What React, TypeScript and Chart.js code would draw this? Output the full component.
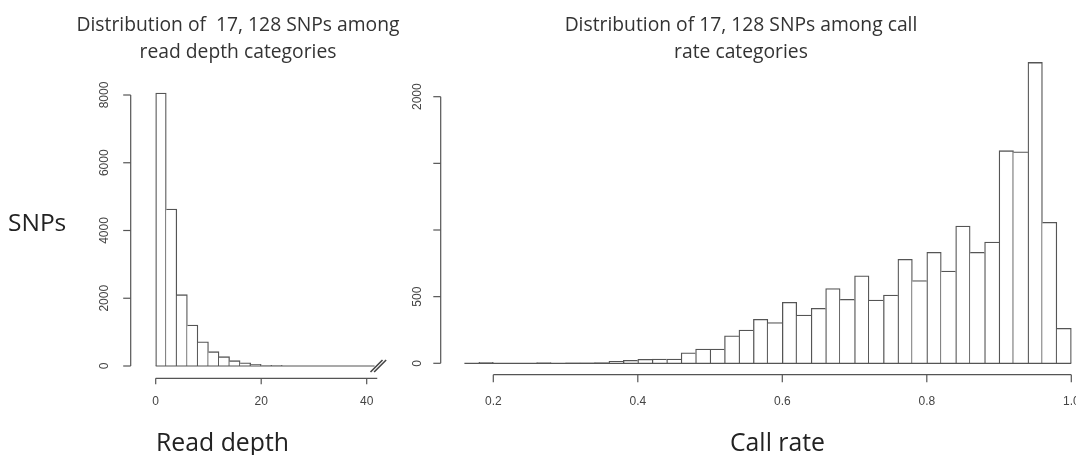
import React, { useEffect, useRef } from "react";
import { Chart, registerables } from "chart.js";

Chart.register(...registerables);

// ---------- Data: read depth histogram ----------
const depthBinMids = [1, 3, 5, 7, 9, 11, 13, 15, 17, 19, 21, 23, 25, 27, 29, 31, 33, 35, 37, 39, 41];
const depthCounts = [8060, 4635, 2105, 1210, 717, 422, 275, 157, 97, 50, 22, 18, 0, 0, 0, 0, 0, 0, 0, 0, 0];
const depthXTicks = [0, 20, 40];
const depthXTickLabels = ["0", "20", "40"];
const depthYTicks = [0, 2000, 4000, 6000, 8000];
const depthYTickLabels = ["0", "2000", "4000", "6000", "8000"];

// ---------- Data: call rate histogram ----------
const callRateBinMids = [
  0.17, 0.19, 0.21, 0.23, 0.25, 0.27, 0.29, 0.31, 0.33, 0.35, 0.37, 0.39, 0.41, 0.43,
  0.45, 0.47, 0.49, 0.51, 0.53, 0.55, 0.57, 0.59, 0.61, 0.63, 0.65, 0.67, 0.69, 0.71,
  0.73, 0.75, 0.77, 0.79, 0.81, 0.83, 0.85, 0.87, 0.89, 0.91, 0.93, 0.95, 0.97, 0.99,
];
const callRateCounts = [
  0, 8, 0, 0, 0, 6, 0, 4, 4, 5, 15, 22, 30, 32,
  32, 78, 107, 107, 207, 250, 330, 305, 457, 362, 412, 560, 480, 657,
  475, 512, 780, 620, 832, 692, 1030, 832, 910, 1595, 1587, 2257, 1057, 262,
];
const callRateXTicks = [0.2, 0.4, 0.6, 0.8, 1.0];
const callRateXTickLabels = ["0.2", "0.4", "0.6", "0.8", "1.0"];
const callRateYTicks = [0, 500, 1000, 1500, 2000];
const callRateYTickLabels = ["0", "500", "", "", "2000"];

// ---------- Texts ----------
const leftTitle = ["Distribution of  17, 128 SNPs among", "read depth categories"];
const rightTitle = ["Distribution of 17, 128 SNPs among call", "rate categories"];
const yAxisTitle = "SNPs";
const leftXAxisTitle = "Read depth";
const rightXAxisTitle = "Call rate";

const LINE = "#555555";
const LABEL = "#444";
const TICK_FONT = '12px "Liberation Sans", Arial, sans-serif';

// R-style detached axes drawn from the chart's own scales
const rAxesPlugin = {
  id: "rAxes",
  afterDatasetsDraw(chart: any, _args: any, o: any) {
    const { ctx, chartArea } = chart;
    const xs = chart.scales.x;
    const ys = chart.scales.y;
    const seg = (x1: number, y1: number, x2: number, y2: number) => {
      ctx.beginPath();
      ctx.moveTo(x1, y1);
      ctx.lineTo(x2, y2);
      ctx.stroke();
    };
    ctx.save();
    ctx.strokeStyle = LINE;
    ctx.lineWidth = 1.2;
    const y0 = ys.getPixelForValue(0);
    // baseline (zero-height bins)
    seg(xs.getPixelForValue(o.baseFrom), y0, xs.getPixelForValue(o.baseTo), y0);

    // x axis
    const axY = y0 + o.xAxisOffset;
    seg(xs.getPixelForValue(o.xLineFrom), axY, xs.getPixelForValue(o.xLineTo), axY);
    ctx.fillStyle = LABEL;
    ctx.font = TICK_FONT;
    ctx.textAlign = "center";
    ctx.textBaseline = "middle";
    xs.ticks.forEach((t: any) => {
      const px = xs.getPixelForValue(t.value);
      seg(px, axY, px, axY + o.xTickLen);
      if (t.label) ctx.fillText(String(t.label), px, axY + o.xLabelOffset);
    });

    // y axis
    const axX = chartArea.left + o.yAxisOffset;
    const yTop = ys.getPixelForValue(ys.ticks[ys.ticks.length - 1].value);
    seg(axX, y0, axX, yTop);
    ys.ticks.forEach((t: any) => {
      const py = ys.getPixelForValue(t.value);
      seg(axX, py, axX - o.yTickLen, py);
      if (t.label) {
        ctx.save();
        ctx.translate(axX + o.yLabelOffset, py);
        ctx.rotate(-Math.PI / 2);
        ctx.fillText(String(t.label), 0, 0);
        ctx.restore();
      }
    });

    // axis break mark
    if (o.breakAt !== undefined) {
      const cx = xs.getPixelForValue(o.breakAt);
      ctx.strokeStyle = "#444";
      ctx.lineWidth = 1.6;
      [-1.8, 1.8].forEach((d) => {
        seg(cx - 6 + d, y0 + 6, cx + 6 + d, y0 - 6);
      });
    }
    ctx.restore();
  },
};

function edgeWidths(counts: number[]) {
  return (c: any) => {
    const i = c.dataIndex;
    const v = counts[i];
    if (!v) return 0;
    const prev = i > 0 ? counts[i - 1] : 0;
    const next = i < counts.length - 1 ? counts[i + 1] : 0;
    return { top: 1.3, bottom: 0, left: prev <= v ? 1.3 : 0, right: next < v ? 1.3 : 0 };
  };
}

function makeConfig(
  mids: number[],
  counts: number[],
  xMin: number,
  xMax: number,
  yMax: number,
  xTicks: number[],
  xLabels: string[],
  yTicks: number[],
  yLabels: string[],
  padding: any,
  axes: any
): any {
  return {
    type: "bar",
    data: {
      datasets: [
        {
          data: mids.map((m, i) => ({ x: m, y: counts[i] })),
          backgroundColor: "#ffffff",
          borderColor: LINE,
          borderWidth: edgeWidths(counts),
          borderSkipped: false,
          categoryPercentage: 1,
          barPercentage: 1,
          clip: false,
        },
      ],
    },
    options: {
      responsive: false,
      animation: false,
      events: [],
      layout: { padding },
      plugins: {
        legend: { display: false },
        title: { display: false },
        tooltip: { enabled: false },
        rAxes: axes,
      },
      scales: {
        x: {
          type: "linear",
          min: xMin,
          max: xMax,
          offset: false,
          display: false,
          afterBuildTicks: (s: any) => {
            s.ticks = xTicks.map((v) => ({ value: v }));
          },
          ticks: { callback: (_v: any, i: number) => xLabels[i] },
        },
        y: {
          type: "linear",
          min: 0,
          max: yMax,
          display: false,
          afterBuildTicks: (s: any) => {
            s.ticks = yTicks.map((v) => ({ value: v }));
          },
          ticks: { callback: (_v: any, i: number) => yLabels[i] },
        },
      },
    },
    plugins: [rAxesPlugin],
  };
}

function HistCanvas({ config }: { config: any }) {
  const ref = useRef<HTMLCanvasElement | null>(null);
  useEffect(() => {
    if (!ref.current) return;
    const chart = new Chart(ref.current, config);
    return () => chart.destroy();
  }, [config]);
  return (
    <canvas
      ref={ref}
      width={1076}
      height={455}
      style={{ position: "absolute", left: 0, top: 0, width: 1076, height: 455 }}
    />
  );
}

const leftConfig = makeConfig(
  depthBinMids,
  depthCounts,
  0,
  42,
  8000,
  depthXTicks,
  depthXTickLabels,
  depthYTicks,
  depthYTickLabels,
  { left: 155.7, right: 698.75, top: 95, bottom: 89 },
  {
    baseFrom: 0,
    baseTo: 41.5,
    xLineFrom: 0,
    xLineTo: 42,
    xAxisOffset: 12.3,
    xTickLen: 6,
    xLabelOffset: 23.4,
    yAxisOffset: -25,
    yTickLen: 7.5,
    yLabelOffset: -25.7,
    breakAt: 42.2,
  }
);

const rightConfig = makeConfig(
  callRateBinMids,
  callRateCounts,
  0.16,
  1.0,
  2000,
  callRateXTicks,
  callRateXTickLabels,
  callRateYTicks,
  callRateYTickLabels,
  { left: 464.4, right: 4.7, top: 96.7, bottom: 91.7 },
  {
    baseFrom: 0.16,
    baseTo: 1.0,
    xLineFrom: 0.2,
    xLineTo: 1.0,
    xAxisOffset: 11.4,
    xTickLen: 7.5,
    xLabelOffset: 27,
    yAxisOffset: -23.7,
    yTickLen: 7.4,
    yLabelOffset: -22.7,
  }
);

const titleFont = '"Open Sans", "Noto Sans", sans-serif';

function Centered({ text, cx, top, size, color }: { text: string; cx: number; top: number; size: number; color: string }) {
  return (
    <div
      style={{
        position: "absolute",
        left: cx - 300,
        width: 600,
        top,
        textAlign: "center",
        fontFamily: titleFont,
        fontSize: size,
        lineHeight: `${size}px`,
        height: size,
        color,
        whiteSpace: "pre",
      }}
    >
      {text}
    </div>
  );
}

export default function App() {
  return (
    <div
      style={{
        position: "absolute",
        left: 0,
        top: 0,
        width: 1076,
        height: 455,
        background: "#ffffff",
        overflow: "hidden",
      }}
    >
      <HistCanvas config={leftConfig} />
      <HistCanvas config={rightConfig} />
      <Centered text={leftTitle[0]} cx={238} top={13.5} size={19.3} color="#333" />
      <Centered text={leftTitle[1]} cx={238} top={40.5} size={19.3} color="#333" />
      <Centered text={rightTitle[0]} cx={741} top={13.5} size={19.3} color="#333" />
      <Centered text={rightTitle[1]} cx={741} top={40.5} size={19.3} color="#333" />
      <div
        style={{
          position: "absolute",
          left: 8,
          top: 210,
          fontFamily: titleFont,
          fontSize: 24.5,
          lineHeight: "24.5px",
          color: "#222",
        }}
      >
        {yAxisTitle}
      </div>
      <Centered text={leftXAxisTitle} cx={222.5} top={428.5} size={24.8} color="#222" />
      <Centered text={rightXAxisTitle} cx={777.5} top={428.5} size={24.8} color="#222" />
    </div>
  );
}
